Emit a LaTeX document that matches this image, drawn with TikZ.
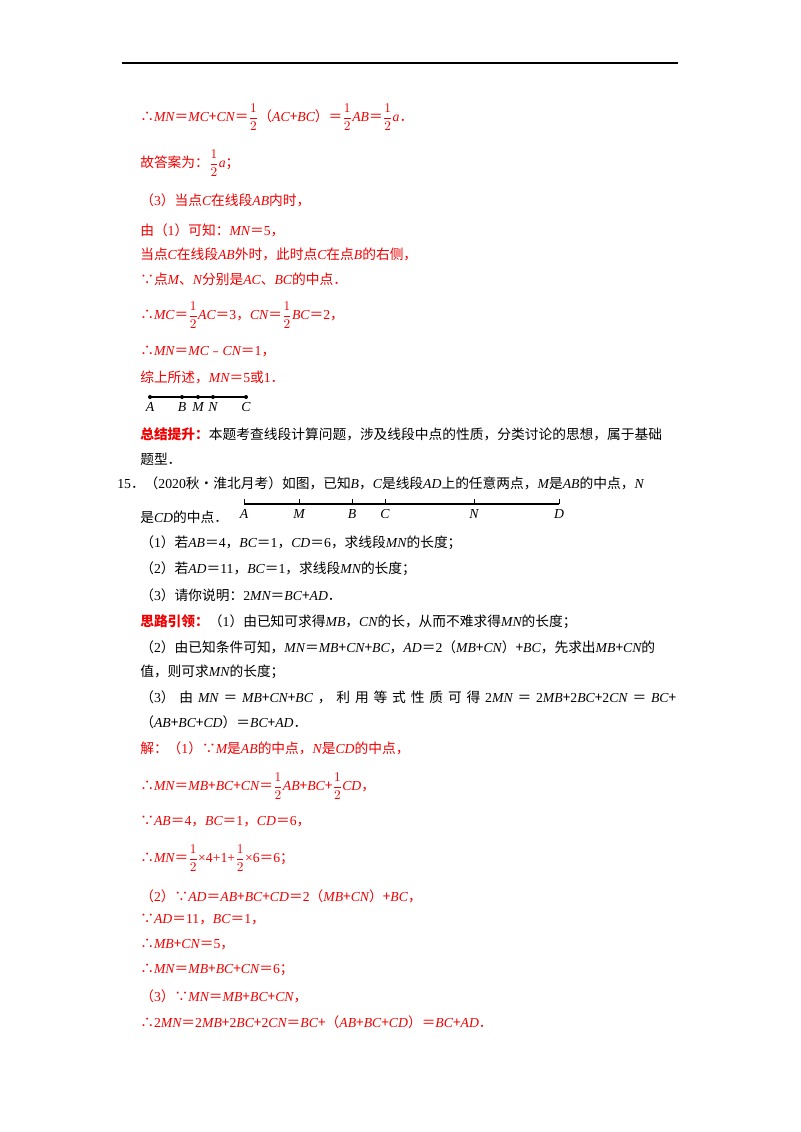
\documentclass[tikz,border=0pt]{standalone}
\usepackage{fontspec}
\setmainfont{Noto Sans CJK SC}
\newfontfamily\lat{Liberation Serif}
\newcommand\vv[1]{{\lat\itshape #1}}
\newcommand\nn[1]{{\lat #1}}
\newcommand\hf{$\displaystyle\frac{1}{2}$}
\definecolor{rd}{RGB}{240,0,0}
\begin{document}
\begin{tikzpicture}[x=0.75pt,y=-0.75pt,
  t/.style={anchor=west,inner sep=0pt,font=\fontsize{10.3}{12}\selectfont},
  r/.style={t,text=rd},
  lb/.style={inner sep=0pt,font=\fontsize{10.3}{12}\selectfont\lat\itshape,anchor=north}]
\useasboundingbox (0,0) rectangle (800,1132);
\draw[line width=0.8pt] (122,63) -- (678,63);
\node[r] (l1) at (140,117) {∴\vv{MN}＝\vv{MC}+\vv{CN}＝\hf（\vv{AC}+\vv{BC}）＝\hf\vv{AB}＝\hf\vv{a}．};
\node[r] (l2) at (140,163) {故答案为：\hf\vv{a}；};
\node[r] (l3) at (140,200) {（\nn{3}）当点\vv{C}在线段\vv{AB}内时，};
\node[r] (l4) at (140,230) {由（\nn{1}）可知：\vv{MN}＝\nn{5}，};
\node[r] (l5) at (140,254) {当点\vv{C}在线段\vv{AB}外时，此时点\vv{C}在点\vv{B}的右侧，};
\node[r] (l6) at (140,279) {∵点\vv{M}、\vv{N}分别是\vv{AC}、\vv{BC}的中点．};
\node[r] (l7) at (140,315) {∴\vv{MC}＝\hf\vv{AC}＝\nn{3}，\vv{CN}＝\hf\vv{BC}＝\nn{2}，};
\node[r] (l8) at (140,352) {∴\vv{MN}＝\vv{MC}﹣\vv{CN}＝\nn{1}，};
\node[r] (l9) at (140,377) {综上所述，\vv{MN}＝\nn{5}或\nn{1}．};
% small diagram
\draw[line width=0.8pt] (150,397) -- (246,397);
\foreach \n/\x in {A/150,B/182,M/198,N/213,C/246}{
  \fill (\x,397) circle (2) coordinate (p\n);
  \node[lb] at (\x,402) {\n};}
\node[t] (s1) at (140,434) {\textcolor{rd}{\bfseries 总结提升：}本题考查线段计算问题，涉及线段中点的性质，分类讨论的思想，属于基础};
\node[t] (s2) at (140,459) {题型．};
\node[t] (q) at (117,483) {\nn{15}．（\nn{2020}秋•淮北月考）如图，已知\vv{B}，\vv{C}是线段\vv{AD}上的任意两点，\vv{M}是\vv{AB}的中点，\vv{N}};
\node[t] (q2) at (140,517) {是\vv{CD}的中点．};
\draw[line width=1pt] (244,504) -- (559,504);
\foreach \n/\x in {A/244,M/299,B/352,C/385,N/474,D/559}{
  \draw[line width=0.6pt] (\x,504) -- (\x,499) coordinate (q\n);
  \node[lb] at (\x,509) {\n};}
\node[t] (a1) at (140,543) {（\nn{1}）若\vv{AB}＝\nn{4}，\vv{BC}＝\nn{1}，\vv{CD}＝\nn{6}，求线段\vv{MN}的长度；};
\node[t] (a2) at (140,569) {（\nn{2}）若\vv{AD}＝\nn{11}，\vv{BC}＝\nn{1}，求线段\vv{MN}的长度；};
\node[t] (a3) at (140,595) {（\nn{3}）请你说明：\nn{2}\vv{MN}＝\vv{BC}+\vv{AD}．};
\node[t] (b1) at (140,622) {\textcolor{rd}{\bfseries 思路引领：}（\nn{1}）由已知可求得\vv{MB}，\vv{CN}的长，从而不难求得\vv{MN}的长度；};
\node[t] (b2) at (140,647) {（\nn{2}）由已知条件可知，\vv{MN}＝\vv{MB}+\vv{CN}+\vv{BC}，\vv{AD}＝\nn{2}（\vv{MB}+\vv{CN}）+\vv{BC}，先求出\vv{MB}+\vv{CN}的};
\node[t] (b3) at (140,672) {值，则可求\vv{MN}的长度；};
\node[t,text width=402pt,align=left] (b4) at (140,697) {（\nn{3}）\hfill 由\hfill \vv{MN}\hfill ＝\hfill \vv{MB}+\vv{CN}+\vv{BC}\hfill ，\hfill 利\hfill 用\hfill 等\hfill 式\hfill 性\hfill 质\hfill 可\hfill 得\hfill \nn{2}\vv{MN}\hfill ＝\hfill \nn{2}\vv{MB}+\nn{2}\vv{BC}+\nn{2}\vv{CN}\hfill ＝\hfill \vv{BC}+};
\node[t] (b5) at (140,722) {（\vv{AB}+\vv{BC}+\vv{CD}）＝\vv{BC}+\vv{AD}．};
\node[r] (c1) at (140,748) {解：（\nn{1}）∵\vv{M}是\vv{AB}的中点，\vv{N}是\vv{CD}的中点，};
\node[r] (c2) at (140,786) {∴\vv{MN}＝\vv{MB}+\vv{BC}+\vv{CN}＝\hf\vv{AB}+\vv{BC}+\hf\vv{CD}，};
\node[r] (c3) at (140,822) {∵\vv{AB}＝\nn{4}，\vv{BC}＝\nn{1}，\vv{CD}＝\nn{6}，};
\node[r] (c4) at (140,858) {∴\vv{MN}＝\hf\nn{×4+1+}\hf\nn{×6}＝\nn{6}；};
\node[r] (c5) at (140,896) {（\nn{2}）∵\vv{AD}＝\vv{AB}+\vv{BC}+\vv{CD}＝\nn{2}（\vv{MB}+\vv{CN}）+\vv{BC}，};
\node[r] (c6) at (140,920) {∵\vv{AD}＝\nn{11}，\vv{BC}＝\nn{1}，};
\node[r] (c7) at (140,945) {∴\vv{MB}+\vv{CN}＝\nn{5}，};
\node[r] (c8) at (140,970) {∴\vv{MN}＝\vv{MB}+\vv{BC}+\vv{CN}＝\nn{6}；};
\node[r] (c9) at (140,996) {（\nn{3}）∵\vv{MN}＝\vv{MB}+\vv{BC}+\vv{CN}，};
\node[r] (c10) at (140,1022) {∴\nn{2}\vv{MN}＝\nn{2}\vv{MB}+\nn{2}\vv{BC}+\nn{2}\vv{CN}＝\vv{BC}+（\vv{AB}+\vv{BC}+\vv{CD}）＝\vv{BC}+\vv{AD}．};
\end{tikzpicture}
\end{document}
